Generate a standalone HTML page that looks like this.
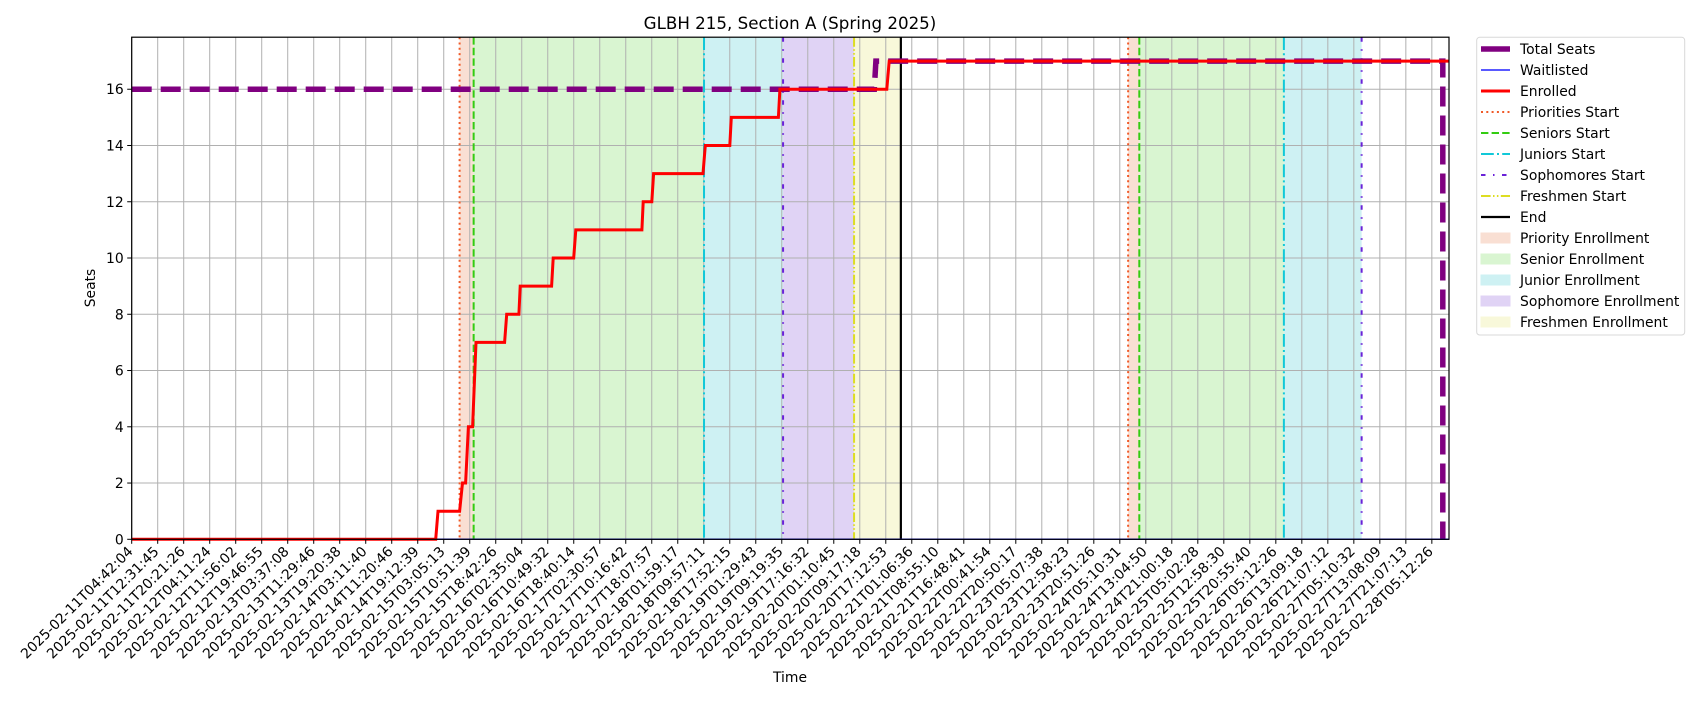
<!DOCTYPE html>
<html><head><meta charset="utf-8"><style>
body{margin:0;background:#fff;width:1700px;height:700px;overflow:hidden}
svg{font-family:"DejaVu Sans","Liberation Sans",sans-serif}
</style></head><body>
<svg id="chart" width="1700" height="700" xmlns="http://www.w3.org/2000/svg">
<g id="spans"></g><g id="grid"></g><g id="vlines"></g><g id="series"></g><g id="axes"></g><g id="legend"></g>
</svg>
<script>
const tickLabels=["2025-02-11T04:42:04","2025-02-11T12:31:45","2025-02-11T20:21:26","2025-02-12T04:11:24","2025-02-12T11:56:02","2025-02-12T19:46:55","2025-02-13T03:37:08","2025-02-13T11:29:46","2025-02-13T19:20:38","2025-02-14T03:11:40","2025-02-14T11:20:46","2025-02-14T19:12:39","2025-02-15T03:05:13","2025-02-15T10:51:39","2025-02-15T18:42:26","2025-02-16T02:35:04","2025-02-16T10:49:32","2025-02-16T18:40:14","2025-02-17T02:30:57","2025-02-17T10:16:42","2025-02-17T18:07:57","2025-02-18T01:59:17","2025-02-18T09:57:11","2025-02-18T17:52:15","2025-02-19T01:29:43","2025-02-19T09:19:35","2025-02-19T17:16:32","2025-02-20T01:10:45","2025-02-20T09:17:18","2025-02-20T17:12:53","2025-02-21T01:06:36","2025-02-21T08:55:10","2025-02-21T16:48:41","2025-02-22T00:41:54","2025-02-22T20:50:17","2025-02-23T05:07:38","2025-02-23T12:58:23","2025-02-23T20:51:26","2025-02-24T05:10:31","2025-02-24T13:04:50","2025-02-24T21:00:18","2025-02-25T05:02:28","2025-02-25T12:58:30","2025-02-25T20:55:40","2025-02-26T05:12:26","2025-02-26T13:09:18","2025-02-26T21:07:12","2025-02-27T05:10:32","2025-02-27T13:08:09","2025-02-27T21:07:13","2025-02-28T05:12:26"];
const yTicks=[0,2,4,6,8,10,12,14,16];
// x in tick-index units
const enrolledX=[0,11.69,11.78,12.61,12.72,12.84,12.95,13.11,13.24,14.34,14.42,14.89,14.94,16.15,16.21,17.0,17.08,19.62,19.67,20.0,20.07,21.97,22.06,23.0,23.06,24.87,24.93,29.04,29.13,50.66];
const enrolledY=[0,0,1,1,2,2,4,4,7,7,8,8,9,9,10,10,11,11,12,12,13,13,14,14,15,15,16,16,17,17];
const seatsX=[0,28.56,28.62,50.42,50.42];
const seatsY=[16,16,17,17,0];
const waitX=[0,50.66];
const waitY=[0,0];
const cycle1=[12.61,13.15,22.01,25.05,27.78,29.58];
const cycle2=[38.32,38.75,44.31,47.30];

const L=131.7,R=1449,T=37.2,B=539.3,XMAX=50.66,YMAX=17.85;
const sx=v=>L+v*(R-L)/XMAX, sy=v=>B-v*(B-T)/YMAX;
const NS="http://www.w3.org/2000/svg";
function mk(tag,attrs,parent){const e=document.createElementNS(NS,tag);for(const k in attrs)e.setAttribute(k,attrs[k]);parent.appendChild(e);return e;}
const G=id=>document.getElementById(id);

const spanCols=["#f9dfd3","#d9f5d1","#cef1f3","#e0d3f5","#f8f8da"];
const spanNames=["priority-span","senior-span","junior-span","sophomore-span","freshmen-span"];
function spans(c){for(let i=0;i<c.length-1;i++){const r=mk('rect',{x:sx(c[i]),y:T,width:sx(c[i+1])-sx(c[i]),height:B-T,fill:spanCols[i]},G('spans'));

}}
spans(cycle1);spans(cycle2);

tickLabels.forEach((t,i)=>{const l=mk('line',{x1:sx(i),x2:sx(i),y1:T,y2:B,stroke:"#b0b0b0","stroke-width":1},G('grid'));

});
yTicks.forEach(v=>{const l=mk('line',{x1:L,x2:R,y1:sy(v),y2:sy(v),stroke:"#b0b0b0","stroke-width":1},G('grid'));

});

const vStyles=[["#f05a28","2 3.3","priorities-start-line"],["#33cc11","7.4 3.2","seniors-start-line"],["#11c8d8","12.8 3.2 2 3.2","juniors-start-line"],["#6a22d8","4.5 7.5 1.5 7.5","sophomores-start-line"],["#dddd22","9.6 2.4 1.5 2.4 1.5 2.4","freshmen-start-line"],["#000","","end-line"]];
function vlines(c){c.forEach((v,i)=>{const s=vStyles[i];const a={x1:sx(v),x2:sx(v),y1:T,y2:B,stroke:s[0],"stroke-width":i==5?2.2:2};if(s[1])a["stroke-dasharray"]=s[1];const l=mk('line',a,G('vlines'));

});}
vlines(cycle1);vlines(cycle2);

function pts(X,Y){return X.map((x,i)=>sx(x).toFixed(1)+","+sy(Y[i]).toFixed(1)).join(" ");}
const ts=mk('polyline',{points:pts(seatsX,seatsY),fill:"none",stroke:"#800080","stroke-width":5.5,"stroke-dasharray":"20 9"},G('series'));


const wl=mk('polyline',{points:pts(waitX,waitY),fill:"none",stroke:"#2222ff","stroke-width":1.5},G('series'));


const en=mk('polyline',{points:pts(enrolledX,enrolledY),fill:"none",stroke:"#ff0000","stroke-width":3,"stroke-linejoin":"miter"},G('series'));



const ax=G('axes');
const fr=mk('rect',{x:L,y:T,width:R-L,height:B-T,fill:"none",stroke:"#000","stroke-width":1.2},ax);


tickLabels.forEach((t,i)=>{mk('line',{x1:sx(i),x2:sx(i),y1:B,y2:B+4.5,stroke:"#000","stroke-width":1},ax);
const tx=mk('text',{x:sx(i)+2,y:B+13,"font-size":13.9,"text-anchor":"end",transform:`rotate(-45 ${sx(i)+2} ${B+13})`},ax);tx.textContent=t;

});
yTicks.forEach(v=>{mk('line',{x1:L-4.5,x2:L,y1:sy(v),y2:sy(v),stroke:"#000","stroke-width":1},ax);
const tx=mk('text',{x:L-8,y:sy(v)+5,"font-size":13.9,"text-anchor":"end"},ax);tx.textContent=v;

});
let e=mk('text',{x:790,y:29,"font-size":16.7,"text-anchor":"middle"},ax);e.textContent="GLBH 215, Section A (Spring 2025)";


e=mk('text',{x:790,y:682,"font-size":13.9,"text-anchor":"middle"},ax);e.textContent="Time";


e=mk('text',{x:95,y:288,"font-size":13.9,"text-anchor":"middle",transform:"rotate(-90 95 288)"},ax);e.textContent="Seats";



const lg=G('legend');
const lb=mk('rect',{x:1476.7,y:37.3,width:208,height:297.7,rx:3,fill:"#fff",stroke:"#d8d8d8","stroke-width":1},lg);


const legendItems=[["Total Seats","line","#800080",5.5,""],["Waitlisted","line","#2222ff",1.5,""],["Enrolled","line","#ff0000",3,""],["Priorities Start","line","#f05a28",2,"2 3.3"],["Seniors Start","line","#33cc11",2,"7.4 3.2"],["Juniors Start","line","#11c8d8",2,"12.8 3.2 2 3.2"],["Sophomores Start","line","#6a22d8",2,"4.5 7.5 1.5 7.5"],["Freshmen Start","line","#dddd22",2,"9.6 2.4 1.5 2.4 1.5 2.4"],["End","line","#000",2.2,""],["Priority Enrollment","rect",spanCols[0]],["Senior Enrollment","rect",spanCols[1]],["Junior Enrollment","rect",spanCols[2]],["Sophomore Enrollment","rect",spanCols[3]],["Freshmen Enrollment","rect",spanCols[4]]];
legendItems.forEach((it,i)=>{const y=49+i*21;const g=mk('g',{},lg);


if(it[1]=="line"){const a={x1:1481,x2:1510,y1:y,y2:y,stroke:it[2],"stroke-width":it[3]};if(it[4])a["stroke-dasharray"]=it[4];mk('line',a,g);}
else mk('rect',{x:1481,y:y-5,width:29,height:10,fill:it[2],stroke:it[2]},g);
const t=mk('text',{x:1520,y:y+5,"font-size":13.9},g);t.textContent=it[0];});
</script>
</body></html>
